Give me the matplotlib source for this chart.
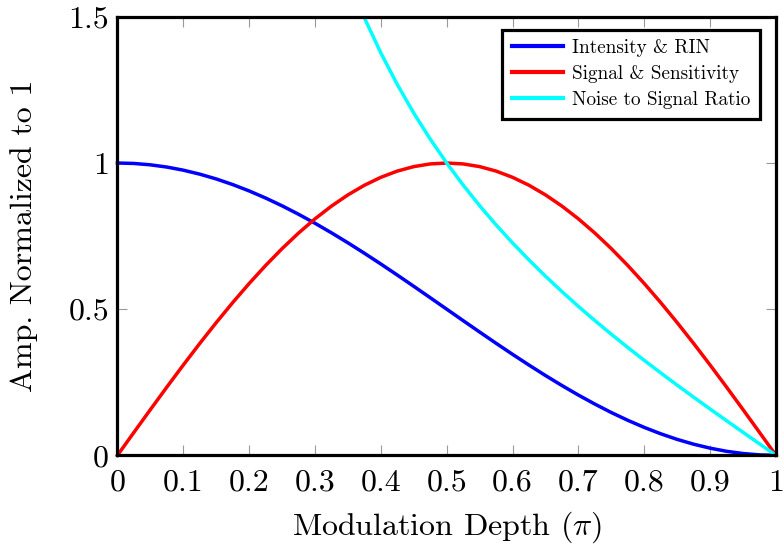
import matplotlib
matplotlib.use("Agg")
import matplotlib.pyplot as plt
import numpy as np

plt.rcParams['font.family'] = 'serif'
plt.rcParams['font.serif'] = ['cmr10']
plt.rcParams['mathtext.fontset'] = 'cm'
plt.rcParams['axes.formatter.use_mathtext'] = True

# modulation depth in units of pi
depth = np.arange(0, 41) * 0.025

intensity = [1.0, 0.9985, 0.9938, 0.9862, 0.9755, 0.9619, 0.9455, 0.9263, 0.9045, 0.8802,
             0.8536, 0.8247, 0.7939, 0.7612, 0.7270, 0.6913, 0.6545, 0.6167, 0.5782, 0.5392,
             0.5, 0.4608, 0.4218, 0.3833, 0.3455, 0.3087, 0.2730, 0.2388, 0.2061, 0.1753,
             0.1464, 0.1198, 0.0955, 0.0737, 0.0545, 0.0381, 0.0245, 0.0138, 0.0062, 0.0015,
             0.0]

signal = [0.0, 0.0785, 0.1564, 0.2334, 0.3090, 0.3827, 0.4540, 0.5225, 0.5878, 0.6494,
          0.7071, 0.7604, 0.8090, 0.8526, 0.8910, 0.9239, 0.9511, 0.9724, 0.9877, 0.9969,
          1.0, 0.9969, 0.9877, 0.9724, 0.9511, 0.9239, 0.8910, 0.8526, 0.8090, 0.7604,
          0.7071, 0.6494, 0.5878, 0.5225, 0.4540, 0.3827, 0.3090, 0.2334, 0.1564, 0.0785,
          0.0]

# noise to signal ratio, only from 0.35 onward (above that it leaves the plot)
nsr_depth = depth[14:]
nsr = [1.6319, 1.4966, 1.3764, 1.2685, 1.1708, 1.0818, 1.0, 0.9244, 0.8541, 0.7883,
       0.7265, 0.6682, 0.6128, 0.5600, 0.5095, 0.4610, 0.4142, 0.3689, 0.3249, 0.2820,
       0.2401, 0.1989, 0.1584, 0.1184, 0.0787, 0.0393, 0.0]

xticks = [0, 0.1, 0.2, 0.3, 0.4, 0.5, 0.6, 0.7, 0.8, 0.9, 1]
xticklabels = ['0', '0.1', '0.2', '0.3', '0.4', '0.5', '0.6', '0.7', '0.8', '0.9', '1']
yticks = [0, 0.5, 1, 1.5]
yticklabels = ['0', '0.5', '1', '1.5']

fig = plt.figure(figsize=(7.83, 5.44), dpi=100)
ax = fig.add_axes([0.150, 0.163, 0.841, 0.806])

ax.plot(depth, intensity, color='#0000ff', lw=2.5, label='Intensity & RIN', clip_on=False)
ax.plot(depth, signal, color='#ff0000', lw=2.5, label='Signal & Sensitivity', clip_on=False)
ax.plot(nsr_depth, nsr, color='#00ffff', lw=2.5, label='Noise to Signal Ratio')

ax.set_xlim(0, 1)
ax.set_ylim(0, 1.5)
ax.set_xticks(xticks)
ax.set_xticklabels(xticklabels)
ax.set_yticks(yticks)
ax.set_yticklabels(yticklabels)
ax.tick_params(direction='in', length=7, width=0.8, color='#999999',
               top=True, right=True, labelsize=23)
ax.tick_params(axis='x', pad=10)
ax.tick_params(axis='y', pad=6)
for sp in ax.spines.values():
    sp.set_linewidth(2.3)
    sp.set_zorder(5)

ax.set_xlabel(r'Modulation Depth ($\pi$)', fontsize=23, labelpad=9)
ax.set_ylabel('Amp. Normalized to 1', fontsize=23, labelpad=22)

leg = ax.legend(loc='upper right', fontsize=13.8, frameon=True, fancybox=False,
                framealpha=1, edgecolor='black', handlelength=2.7, borderpad=0.5,
                handletextpad=0.45, bbox_to_anchor=(0.99, 0.993), labelspacing=0.42)
leg.get_frame().set_linewidth(2.3)
for line in leg.get_lines():
    line.set_linewidth(3)

fig.savefig('out.png', dpi=100)
